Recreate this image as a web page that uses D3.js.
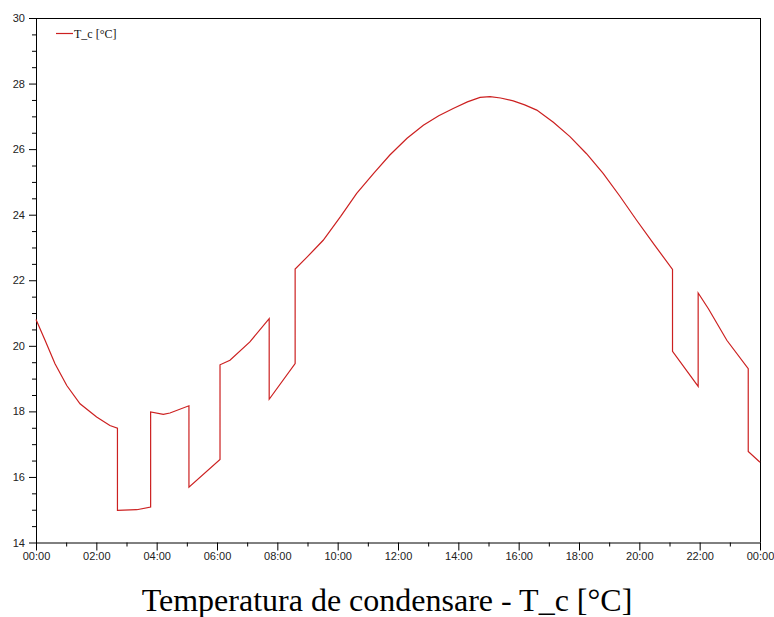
<!DOCTYPE html>
<html><head><meta charset="utf-8">
<script src="https://cdn.jsdelivr.net/npm/d3@7"></script>
<style>body{margin:0;background:#fff}svg{display:block}</style>
</head><body>
<svg id="c" width="774" height="617"></svg>
<script>
// hours of day (0-24) and condenser temperature values
const hours = [0,0.3,0.63,1.02,1.46,2.01,2.45,2.7,2.7,3.34,3.8,3.8,4.22,4.44,5.07,5.07,6.1,6.1,6.43,7.09,7.73,7.73,8.59,8.59,9.0,9.52,10.1,10.63,11.2,11.73,12.3,12.84,13.35,13.83,14.3,14.72,15.05,15.4,15.82,16.2,16.6,17.15,17.7,18.25,18.8,19.35,19.91,20.5,21.1,21.1,21.95,21.95,22.29,22.9,23.61,23.61,24];
const tc = [20.8,20.17,19.45,18.79,18.23,17.83,17.57,17.49,14.98,15.0,15.08,17.98,17.91,17.95,18.17,15.69,16.53,19.42,19.56,20.12,20.83,18.37,19.46,22.34,22.72,23.22,23.95,24.65,25.27,25.82,26.33,26.73,27.02,27.24,27.44,27.58,27.6,27.56,27.47,27.35,27.19,26.82,26.38,25.86,25.26,24.57,23.83,23.08,22.33,19.83,18.76,21.61,21.13,20.17,19.3,16.78,16.45];
const xTickLabels = ["00:00","02:00","04:00","06:00","08:00","10:00","12:00","14:00","16:00","18:00","20:00","22:00","00:00"];
const yTicks = [14,16,18,20,22,24,26,28,30];
const seriesName = "T_c [°C]";
const title = "Temperatura de condensare - T_c [°C]";

const svg = d3.select("#c");
const L = 36, R = 760, T = 18, B = 542.5;
const x = d3.scaleLinear().domain([0,24]).range([L,R]);
const y = d3.scaleLinear().domain([14,30]).range([B,T]);
const tickFont = "'Liberation Sans', Arial, sans-serif";

// frame
svg.append("line").attr("x1",L).attr("x2",R).attr("y1",T+0.5).attr("y2",T+0.5).attr("stroke","#000");
svg.append("line").attr("x1",R+0.5).attr("x2",R+0.5).attr("y1",T).attr("y2",B).attr("stroke","#000");

// x axis
const xa = svg.append("g").attr("transform",`translate(0,${B})`)
  .call(d3.axisBottom(x).tickValues(d3.range(0,25,2)).tickFormat((d,i)=>xTickLabels[i]).tickSize(8).tickSizeOuter(0));
svg.append("g").attr("transform",`translate(0,${B})`)
  .call(d3.axisBottom(x).tickValues(d3.range(1,24,2)).tickFormat("").tickSize(4).tickSizeOuter(0))
  .select(".domain").remove();
// y axis
const ya = svg.append("g").attr("transform",`translate(${L},0)`)
  .call(d3.axisLeft(y).tickValues(yTicks).tickSize(7).tickSizeOuter(0));
svg.append("g").attr("transform",`translate(${L},0)`)
  .call(d3.axisLeft(y).tickValues(d3.range(14.5,30,0.5).filter(v=>v%2!==0)).tickFormat("").tickSize(4).tickSizeOuter(0))
  .select(".domain").remove();
svg.selectAll(".tick text").attr("font-family",tickFont).attr("font-size",11).attr("fill","#222");
xa.selectAll(".tick text").attr("dy","0.55em");
ya.selectAll(".tick text").attr("dx","-1");
svg.selectAll(".domain,.tick line").attr("stroke","#000");

// line
svg.append("path")
  .datum(hours.map((h,i)=>[h,tc[i]]))
  .attr("fill","none").attr("stroke","#cc2020").attr("stroke-width",1.2)
  .attr("d",d3.line().x(d=>x(d[0])).y(d=>y(d[1])));

// legend
svg.append("line").attr("x1",56).attr("x2",73).attr("y1",33.5).attr("y2",33.5).attr("stroke","#cc2020").attr("stroke-width",1.2);
svg.append("text").attr("x",74).attr("y",37.5).text(seriesName)
  .attr("font-family","'Liberation Serif', 'Times New Roman', serif").attr("font-size",12).attr("fill","#111");

// title
svg.append("text").attr("x",387).attr("y",611).attr("text-anchor","middle").text(title)
  .attr("font-family","'Liberation Serif', 'Times New Roman', serif").attr("font-size",32).attr("fill","#000");
</script>
</body></html>
